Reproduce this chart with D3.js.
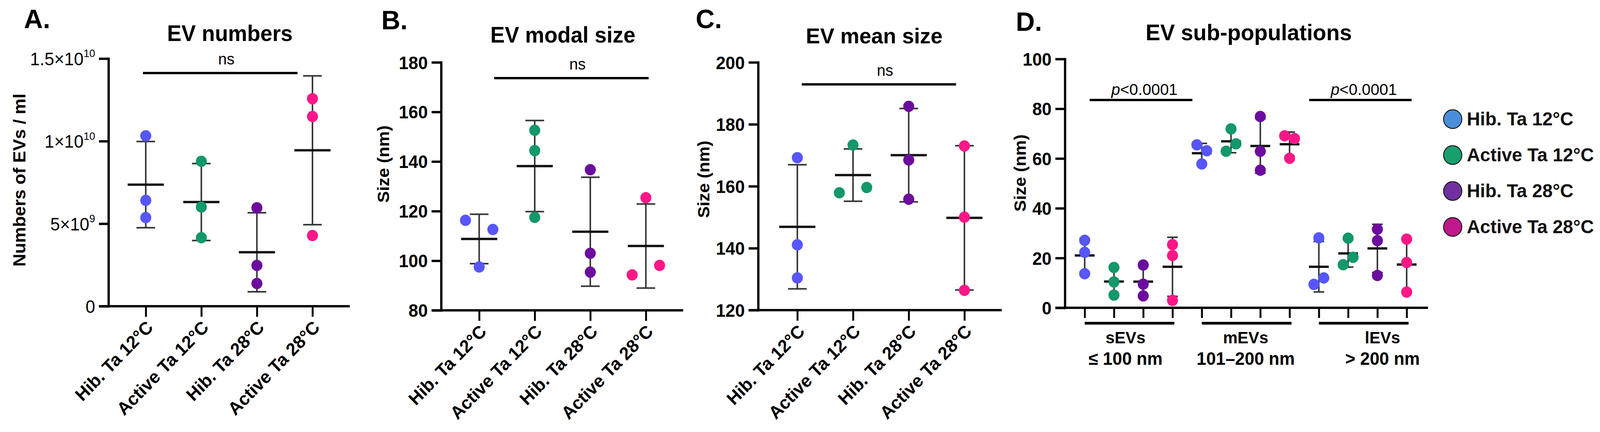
<!DOCTYPE html>
<html><head><meta charset="utf-8">
<script src="https://cdn.jsdelivr.net/npm/d3@7/dist/d3.min.js"></script>
<style>html,body{margin:0;padding:0;background:#fff;overflow:hidden;width:100%;height:100%}svg{display:block;width:100vw;height:100vh}</style>
</head><body>
<svg id="chart" viewBox="0 0 4204 1106" preserveAspectRatio="none"></svg>
<script>
// ---------------- data ----------------
const groups = ["Hib. Ta 12°C", "Active Ta 12°C", "Hib. Ta 28°C", "Active Ta 28°C"];
const groupColors = ["#5656fb", "#12986a", "#6c0c9e", "#ff1788"];
const legendColors = ["#4a8edb", "#17a06d", "#7030a0", "#c0198b"];

const evNumbers = [[10.32e9, 6.41e9, 5.37e9], [8.78e9, 6.01e9, 4.15e9], [5.96e9, 2.47e9, 1.38e9], [12.57e9, 11.49e9, 4.28e9]];
const yTicksA = [0, 5e9, 1e10, 1.5e10];
const yTickLabelsA = [["0", ""], ["5×10", "9"], ["1×10", "10"], ["1.5×10", "10"]];

const modalSize = [[116.3, 112.6, 97.5], [152.6, 144.4, 117.5], [136.7, 103.0, 95.4], [125.4, 94.3, 98.1]];
const yTicksB = [80, 100, 120, 140, 160, 180];

const meanSize = [[169.2, 141.1, 130.4], [157.9, 159.6, 173.3], [185.8, 168.5, 155.8], [173.0, 150.0, 126.4]];
const yTicksC = [120, 140, 160, 180, 200];

const subPopulations = ["sEVs", "mEVs", "lEVs"];
const subPopRanges = ["≤ 100 nm", "101–200 nm", "> 200 nm"];
const sEVs = [[27.1, 22.3, 13.7], [16.2, 10.4, 5.1], [17.2, 9.5, 4.8], [25.4, 21.0, 3.0]];
const mEVs = [[65.5, 63.1, 57.8], [62.9, 65.9, 71.9], [76.9, 62.9, 55.3], [69.1, 68.0, 60.1]];
const lEVs = [[28.1, 9.4, 12.0], [28.0, 17.3, 20.3], [31.6, 27.0, 13.0], [27.6, 18.2, 6.3]];
const yTicksD = [0, 20, 40, 60, 80, 100];

const panelLetters = ["A.", "B.", "C.", "D."];
const panelTitles = ["EV numbers", "EV modal size", "EV mean size", "EV sub-populations"];
const yTitles = ["Numbers of EVs / ml", "Size (nm)", "Size (nm)", "Size (nm)"];
const nsLabel = "ns";
const pLabel = "<0.0001";

// ---------------- drawing ----------------
const FONT = "'Liberation Sans', Arial, Helvetica, sans-serif";
const svg = d3.select("#chart").style("font-family", FONT);
svg.append("rect").attr("width", 4204).attr("height", 1106).attr("fill", "#fff");

// font size that makes `ref` as wide as the reference picture shows it
function fitSize(base, weight, ref, target) {
  const t = svg.append("text").attr("font-size", base).attr("font-weight", weight).attr("font-family", FONT).text(ref);
  const w = t.node().getComputedTextLength();
  t.remove();
  return w > 0 ? base * target / w : base;
}
const SZ = {
  legend: fitSize(48, "bold", "Active Ta 12°C", 334),
  xlab: fitSize(46, "bold", "Active Ta 12°C", 318),
  tick: fitSize(46, "normal", "180", 76),
  tickB: fitSize(46, "bold", "180", 76),
  ns: fitSize(41, "normal", "ns", 43),
  p: fitSize(41, "normal", "p<0.0001", 174),
  letter: fitSize(64, "bold", "A.", 69),
  sub1: fitSize(43, "bold", "mEVs", 119),
  sub2: fitSize(46, "bold", "101–200 nm", 258),
  yA: fitSize(46, "bold", yTitles[0], 443),
  ySize: fitSize(44, "bold", "Size (nm)", 198)
};
const titleWidths = [330, 381, 359, 542];

function drawColumn(g, vals, cx, y, color, o) {
  const mean = d3.mean(vals), sd = d3.deviation(vals);
  const ec = "#333";
  g.append("line").attr("x1", cx).attr("x2", cx).attr("y1", y(mean + sd)).attr("y2", y(mean - sd))
    .attr("stroke", ec).attr("stroke-width", 4);
  [mean + sd, mean - sd].forEach(v => g.append("line")
    .attr("x1", cx - o.cap / 2).attr("x2", cx + o.cap / 2).attr("y1", y(v)).attr("y2", y(v))
    .attr("stroke", ec).attr("stroke-width", 4));
  g.append("line").attr("x1", cx - o.meanW / 2).attr("x2", cx + o.meanW / 2)
    .attr("y1", y(mean)).attr("y2", y(mean)).attr("stroke", "#111").attr("stroke-width", 6);
  // scatter: overlapping points are spread side by side
  const pts = vals.map((v, i) => ({ v, i, py: y(v), dx: 0 }));
  const sorted = pts.slice().sort((a, b) => a.py - b.py);
  const clusters = [];
  sorted.forEach(p => {
    const last = clusters[clusters.length - 1];
    if (last && p.py - last[last.length - 1].py < 26) last.push(p); else clusters.push([p]);
  });
  clusters.forEach(c => { c.sort((a, b) => a.i - b.i); c.forEach((p, k) => p.dx = (k - (c.length - 1) / 2) * o.spread); });
  g.selectAll(null).data(pts).enter().append("circle")
    .attr("cx", p => cx + p.dx).attr("cy", p => p.py).attr("r", 14.5).attr("fill", color);
}

function yAxis(g, y, axisX, ticks, bold, labelFn) {
  const ax = g.append("g").attr("transform", `translate(${axisX},0)`)
    .call(d3.axisLeft(y).tickValues(ticks).tickSize(25).tickSizeOuter(0).tickPadding(10).tickFormat(labelFn ? () => "" : d3.format("d")));
  ax.select(".domain").attr("stroke", "#000").attr("stroke-width", 6).attr("stroke-linecap", "square");
  ax.selectAll(".tick line").attr("stroke", "#000").attr("stroke-width", 6);
  ax.selectAll(".tick text").attr("font-size", bold ? SZ.tickB : SZ.tick).attr("font-family", FONT)
    .attr("font-weight", bold ? "bold" : "normal").attr("fill", "#000").attr("dy", "0.36em");
  if (labelFn) {
    ax.selectAll(".tick text").each(function (d, i) {
      const t = d3.select(this); const parts = labelFn(d, i);
      t.append("tspan").text(parts[0]);
      if (parts[1]) t.append("tspan").attr("font-size", SZ.tick * 0.6).attr("dy", "-0.75em").text(parts[1]);
    });
  }
  return ax;
}

function xAxisLine(g, axisX, xEnd, axisY) {
  g.append("line").attr("x1", axisX - 25).attr("x2", xEnd).attr("y1", axisY).attr("y2", axisY)
    .attr("stroke", "#000").attr("stroke-width", 6);
}

function panelText(p, letterX, letterY, titleX, titleY) {
  svg.append("text").attr("x", letterX).attr("y", letterY).attr("font-size", SZ.letter).attr("font-weight", "bold").text(panelLetters[p]);
  svg.append("text").attr("x", titleX).attr("y", titleY).attr("text-anchor", "middle")
    .attr("font-size", fitSize(55, "bold", panelTitles[p], titleWidths[p]))
    .attr("font-weight", "bold").text(panelTitles[p]);
}

function yTitle(p, x, yc, size) {
  svg.append("text").attr("transform", `translate(${x},${yc}) rotate(-90)`).attr("text-anchor", "middle")
    .attr("font-size", size).attr("font-weight", "bold").text(yTitles[p]);
}

// generic 4-group panel (A, B, C)
function simplePanel(cfg) {
  const g = svg.append("g");
  const y = d3.scaleLinear().domain(cfg.domain).range(cfg.yRange);
  const x = d3.scalePoint().domain(groups).range(cfg.xRange);
  xAxisLine(g, cfg.axisX, cfg.xEnd, cfg.yRange[0]);
  yAxis(g, y, cfg.axisX, cfg.ticks, cfg.boldTicks, cfg.labelFn);
  const xa = g.append("g").attr("transform", `translate(0,${cfg.yRange[0]})`)
    .call(d3.axisBottom(x).tickSize(27).tickSizeOuter(0).tickFormat(""));
  xa.select(".domain").remove();
  xa.selectAll(".tick line").attr("stroke", "#000").attr("stroke-width", 5);
  groups.forEach((name, i) => {
    g.append("text").attr("transform", `translate(${x(name) + 22},${cfg.yRange[0] + 57}) rotate(-45)`)
      .attr("text-anchor", "end").attr("font-size", SZ.xlab).attr("font-weight", "bold").text(name);
    drawColumn(g, cfg.data[i], x(name), y, groupColors[i], { cap: 49, meanW: 95, spread: 72 });
  });
  // significance bar
  const xi = d3.scaleLinear().domain([0, groups.length - 1]).range(cfg.xRange);
  g.append("line").attr("x1", xi(cfg.sig[0])).attr("x2", xi(cfg.sig[1])).attr("y1", cfg.sigY).attr("y2", cfg.sigY)
    .attr("stroke", "#000").attr("stroke-width", 6);
  g.append("text").attr("x", (xi(cfg.sig[0]) + xi(cfg.sig[1])) / 2 + 16).attr("y", cfg.sigY - 22)
    .attr("text-anchor", "middle").attr("font-size", SZ.ns).text(nsLabel);
  return { x, y };
}

// Panel A
panelText(0, 63, 72, 604, 105);
yTitle(0, 67, 461, SZ.yA);
simplePanel({ axisX: 285, xEnd: 919, xRange: [383, 821], yRange: [784, 150], domain: [0, 1.5e10],
  ticks: yTicksA, boldTicks: false, labelFn: (d, i) => yTickLabelsA[i], data: evNumbers, sig: [-0.05, 2.73], sigY: 187 });

// Panel B
panelText(1, 1002, 75, 1479, 109);
yTitle(1, 1022, 420, SZ.ySize);
simplePanel({ axisX: 1159, xEnd: 1795, xRange: [1259, 1697], yRange: [794.5, 159.6], domain: [80, 180],
  ticks: yTicksB, boldTicks: true, data: modalSize, sig: [0.27, 3.05], sigY: 200 });

// Panel C
panelText(2, 1828, 72, 2297, 111);
yTitle(2, 1864, 459, SZ.ySize);
simplePanel({ axisX: 1992, xEnd: 2632, xRange: [2095, 2534], yRange: [794, 159.6], domain: [120, 200],
  ticks: yTicksC, boldTicks: true, data: meanSize, sig: [0.08, 2.85], sigY: 216 });

// Panel D
(function () {
  panelText(3, 2669, 79, 3281, 103);
  yTitle(3, 2695, 443, SZ.ySize);
  const g = svg.append("g");
  const axisX = 2798, xEnd = 3752, yRange = [788, 151];
  const y = d3.scaleLinear().domain([0, 100]).range(yRange);
  const keys = [];
  subPopulations.forEach(s => groups.forEach(gr => keys.push(s + "|" + gr)));
  const x = d3.scalePoint().domain(keys).range([2850, 3696]);
  const xi = d3.scaleLinear().domain([0, keys.length - 1]).range([2850, 3696]);
  xAxisLine(g, axisX, xEnd, yRange[0]);
  yAxis(g, y, axisX, yTicksD, true, null);
  const xa = g.append("g").attr("transform", `translate(0,${yRange[0]})`)
    .call(d3.axisBottom(x).tickSize(26).tickSizeOuter(0).tickFormat(""));
  xa.select(".domain").remove();
  xa.selectAll(".tick line").attr("stroke", "#000").attr("stroke-width", 5);
  const subData = [sEVs, mEVs, lEVs];
  const labelShift = [-8, 0, 52];
  subPopulations.forEach((s, si) => {
    const first = x(s + "|" + groups[0]), last = x(s + "|" + groups[3]);
    g.append("line").attr("x1", first).attr("x2", last + 5).attr("y1", 827.5).attr("y2", 827.5)
      .attr("stroke", "#000").attr("stroke-width", 7);
    const cx = (first + last) / 2 + labelShift[si];
    g.append("text").attr("x", cx).attr("y", 879).attr("text-anchor", "middle").attr("font-size", SZ.sub1)
      .attr("font-weight", "bold").text(s);
    g.append("text").attr("x", cx).attr("y", 934).attr("text-anchor", "middle").attr("font-size", SZ.sub2)
      .attr("font-weight", "bold").text(subPopRanges[si]);
    groups.forEach((gr, gi) => drawColumn(g, subData[si][gi], x(s + "|" + gr), y, groupColors[gi],
      { cap: 28, meanW: 52, spread: 26 }));
  });
  // significance bars
  [[0.17, 3.68], [7.67, 11.17]].forEach(span => {
    g.append("line").attr("x1", xi(span[0])).attr("x2", xi(span[1])).attr("y1", 256).attr("y2", 256)
      .attr("stroke", "#000").attr("stroke-width", 6);
    const t = g.append("text").attr("x", (xi(span[0]) + xi(span[1])) / 2 + 9).attr("y", 243)
      .attr("text-anchor", "middle").attr("font-size", SZ.p);
    t.append("tspan").attr("font-style", "italic").text("p");
    t.append("tspan").text(pLabel);
  });
  // legend
  const lg = svg.append("g");
  groups.forEach((name, i) => {
    const cy = 305 + i * 92;
    lg.append("circle").attr("cx", 3817).attr("cy", cy).attr("r", 24).attr("fill", legendColors[i])
      .attr("stroke", "#1a1a1a").attr("stroke-width", 2.5);
    lg.append("text").attr("x", 3854).attr("y", cy + 16).attr("font-size", SZ.legend).attr("font-weight", "bold")
      .attr("fill", "#111").text(name);
  });
})();
</script>
</body></html>
